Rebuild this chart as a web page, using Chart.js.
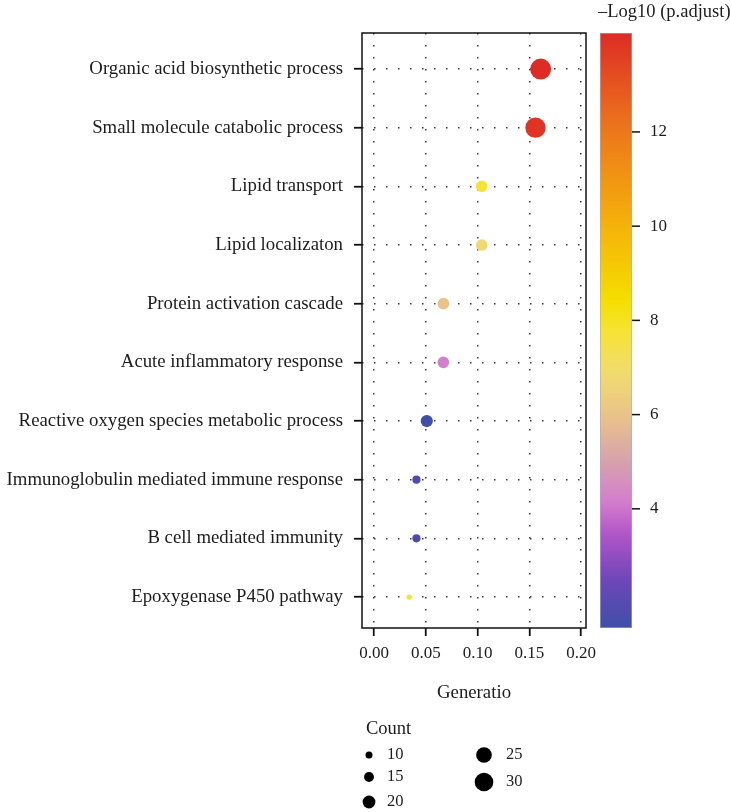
<!DOCTYPE html>
<html lang="en">
<head>
<meta charset="UTF-8">
<title>GO enrichment dot plot</title>
<script src="https://cdn.jsdelivr.net/npm/chart.js"></script>
<style>
  html, body { margin: 0; padding: 0; background: #fff; }
</style>
</head>
<body>
<canvas id="dotplot" width="731" height="812"></canvas>
<script>
// GO terms, top to bottom
const terms = [
  'Organic acid biosynthetic process',
  'Small molecule catabolic process',
  'Lipid transport',
  'Lipid localizaton',
  'Protein activation cascade',
  'Acute inflammatory response',
  'Reactive oxygen species metabolic process',
  'Immunoglobulin mediated immune response',
  'B cell mediated immunity',
  'Epoxygenase P450 pathway'
];
const geneRatio = [0.161, 0.156, 0.104, 0.104, 0.067, 0.067, 0.051, 0.041, 0.041, 0.034];
const counts = [34, 33, 18, 18, 18, 18, 19, 12, 12, 7];
const negLogPadj = [14.1, 13.9, 7.8, 6.8, 6.0, 4.2, 1.47, 1.8, 1.8, 7.8];

const xTicks = [0, 0.05, 0.10, 0.15, 0.20];
const colorTicks = [4, 6, 8, 10, 12];
const countBreaksLeft = [10, 15, 20];
const countBreaksRight = [25, 30];

const FONT = "'Liberation Serif', 'DejaVu Serif', serif";
const TEXT = '#1c1c1c';

// colour ramp for -log10(p.adjust), low -> high
const ramp = [
  [0.00, [62, 80, 168]],
  [0.08, [110, 70, 184]],
  [0.16, [178, 86, 200]],
  [0.21, [212, 124, 206]],
  [0.28, [214, 162, 172]],
  [0.35, [232, 192, 140]],
  [0.43, [242, 220, 110]],
  [0.50, [245, 228, 50]],
  [0.55, [245, 222, 0]],
  [0.68, [245, 176, 10]],
  [0.84, [236, 118, 28]],
  [1.00, [222, 44, 36]]
];
const cMin = Math.min(...negLogPadj);
const cMax = Math.max(...negLogPadj);

function rampColor(t) {
  t = Math.max(0, Math.min(1, t));
  for (let i = 1; i < ramp.length; i++) {
    if (t <= ramp[i][0]) {
      const [t0, a] = ramp[i - 1], [t1, b] = ramp[i];
      const f = (t - t0) / (t1 - t0);
      const c = a.map((v, k) => Math.round(v + (b[k] - v) * f));
      return `rgb(${c[0]},${c[1]},${c[2]})`;
    }
  }
  return 'rgb(222,44,36)';
}
const colorOf = v => rampColor((v - cMin) / (cMax - cMin));
const sizeOf = n => 0.29 * n + 0.6;

// border box, colour bar and size legend
const extras = {
  id: 'extras',
  afterDraw(chart) {
    const { ctx, chartArea: a } = chart;
    ctx.save();
    ctx.strokeStyle = '#111';
    ctx.lineWidth = 1.5;
    ctx.strokeRect(a.left, a.top, a.right - a.left, a.bottom - a.top);

    // colour bar
    const bx = 600, bw = 32, h = a.bottom - a.top;
    const vy = v => a.bottom - (v - cMin) / (cMax - cMin) * h;
    const grad = ctx.createLinearGradient(0, a.bottom, 0, a.top);
    for (let i = 0; i <= 60; i++) grad.addColorStop(i / 60, rampColor(i / 60));
    ctx.fillStyle = grad;
    ctx.fillRect(bx, a.top, bw, h);
    ctx.strokeStyle = 'rgba(170,170,200,0.6)';
    ctx.lineWidth = 1;
    ctx.strokeRect(bx + 0.5, a.top + 0.5, bw - 1, h - 1);

    ctx.fillStyle = TEXT;
    ctx.textBaseline = 'middle';
    ctx.textAlign = 'left';
    ctx.strokeStyle = '#111';
    ctx.lineWidth = 1.5;
    ctx.font = `17px ${FONT}`;
    colorTicks.forEach(v => {
      const y = vy(v);
      ctx.beginPath();
      ctx.moveTo(bx + bw, y);
      ctx.lineTo(bx + bw + 8, y);
      ctx.stroke();
      ctx.fillText(String(v), 650, y);
    });
    ctx.font = `18.5px ${FONT}`;
    ctx.fillText('\u2013Log10 (p.adjust)', 598, 12);

    // size legend
    ctx.fillText('Count', 366, 729);
    ctx.font = `16.5px ${FONT}`;
    ctx.fillStyle = '#000';
    const item = (n, cx, cy, tx) => {
      ctx.beginPath();
      ctx.arc(cx, cy, sizeOf(n), 0, Math.PI * 2);
      ctx.fill();
      ctx.fillStyle = TEXT;
      ctx.fillText(String(n), tx, cy);
      ctx.fillStyle = '#000';
    };
    const leftY = [755, 777, 802];
    const rightY = [755, 782];
    countBreaksLeft.forEach((n, i) => item(n, 369, leftY[i], 387));
    countBreaksRight.forEach((n, i) => item(n, 484, rightY[i], 506));
    ctx.restore();
  }
};

const labelFont = { family: FONT, size: 18.8 };
const digitFont = { family: FONT, size: 17 };
const gridOpts = {
  color: '#3a3a3a',
  lineWidth: 1.5,
  tickLength: 8,
  tickColor: '#111',
  tickWidth: 1.8
};

new Chart(document.getElementById('dotplot'), {
  type: 'scatter',
  data: {
    datasets: [{
      data: geneRatio.map((g, i) => ({ x: g, y: i })),
      pointRadius: c => sizeOf(counts[c.dataIndex]),
      pointBackgroundColor: c => colorOf(negLogPadj[c.dataIndex]),
      pointBorderWidth: 0,
      pointHoverRadius: c => sizeOf(counts[c.dataIndex])
    }]
  },
  options: {
    responsive: false,
    animation: false,
    layout: { padding: { left: 0, right: 145, top: 33, bottom: 100 } },
    plugins: { legend: { display: false }, tooltip: { enabled: false } },
    scales: {
      x: {
        type: 'linear',
        min: -0.0116,
        max: 0.2048,
        afterBuildTicks: s => { s.ticks = xTicks.map(v => ({ value: v })); },
        afterFit: s => { s.height = 84; },
        ticks: { callback: v => v.toFixed(2), font: digitFont, color: TEXT, padding: 7, maxRotation: 0 },
        grid: gridOpts,
        border: { display: false, dash: [1.5, 10.5] },
        title: { display: true, text: 'Generatio', font: labelFont, color: TEXT, padding: { top: 0, bottom: 8 } }
      },
      y: {
        type: 'linear',
        reverse: true,
        min: -0.614,
        max: 9.528,
        afterBuildTicks: s => { s.ticks = terms.map((_, i) => ({ value: i })); },
        afterFit: s => { s.width = 362; },
        ticks: { callback: v => terms[v], font: labelFont, color: TEXT, padding: 11, autoSkip: false },
        grid: gridOpts,
        border: { display: false, dash: [1.5, 10.5] }
      }
    }
  },
  plugins: [extras]
});
</script>
</body>
</html>
